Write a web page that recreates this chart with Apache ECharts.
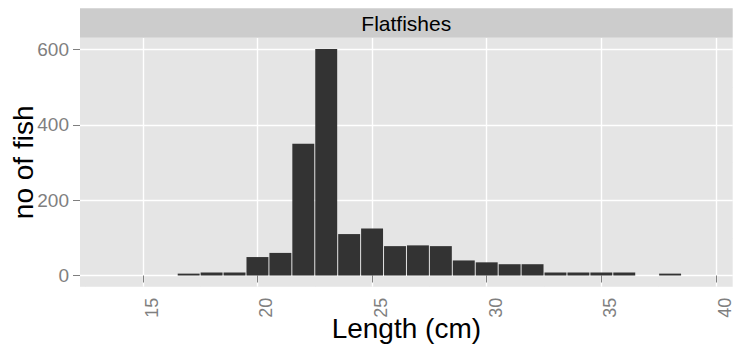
<!DOCTYPE html>
<html><head><meta charset="utf-8">
<script src="https://cdn.jsdelivr.net/npm/echarts@6/dist/echarts.min.js"></script>
<style>html,body{margin:0;padding:0;background:#fff}#c{width:734px;height:356px}</style>
</head><body><div id="c"></div>
<script>
const lengths = [17,18,19,20,21,22,23,24,25,26,27,28,29,30,31,32,33,34,35,36,38];
const counts  = [5,8,8,49,60,350,601,110,125,78,80,78,40,35,30,30,8,8,8,8,5];
const xMajorTicks = [15,20,25,30,35,40];
const xMinorTicks = [12.5,17.5,22.5,27.5,32.5,37.5];
const yMajorTicks = [0,200,400,600];
const yMinorTicks = [100,300,500];
const panelTitle = 'Flatfishes';
const xTitle = 'Length (cm)';
const yTitle = 'no of fish';

const FONT = '"Liberation Sans", Arial, sans-serif';
const X_MIN = 12.26, X_MAX = 40.73, Y_MIN = -29.7, Y_MAX = 630.5;
const chart = echarts.init(document.getElementById('c'), null, {renderer: 'svg'});
const barData = lengths.map((x, i) => [x, counts[i]]);

const minorAxisCommon = {
  axisLine: {show: false}, axisLabel: {show: false},
  splitLine: {show: true, lineStyle: {color: '#F2F2F2', width: 1}}, z: -1
};

chart.setOption({
  animation: false,
  grid: {left: 80, right: 1.3, top: 38, bottom: 69.3, show: true, backgroundColor: '#E5E5E5', borderWidth: 0, outerBoundsMode: 'none', containLabel: false},
  graphic: [
    {type: 'rect', shape: {x: 80, y: 8.3, width: 652.7, height: 29.4}, style: {fill: '#CCCCCC'}, z: -10},
    {type: 'text', x: 406.3, y: 23.5, style: {text: panelTitle, font: '21px ' + FONT, fill: '#000', textAlign: 'center', textVerticalAlign: 'middle'}}
  ],
  xAxis: [
    {type: 'value', min: X_MIN, max: X_MAX, position: 'bottom',
     axisLine: {show: false},
     axisTick: {show: true, customValues: xMajorTicks, length: 7, lineStyle: {color: '#7F7F7F', width: 1}},
     axisLabel: {customValues: xMajorTicks, rotate: 90, margin: 11, color: '#7F7F7F', fontSize: 18, lineHeight: 18, fontFamily: FONT, verticalAlign: 'top'},
     splitLine: {show: true, lineStyle: {color: '#FFFFFF', width: 1.4}},
     name: xTitle, nameLocation: 'middle', nameGap: 28, nameMoveOverlap: false,
     nameTextStyle: {color: '#000', fontSize: 28, fontFamily: FONT, verticalAlign: 'top'}},
    Object.assign({type: 'value', min: X_MIN, max: X_MAX, position: 'bottom',
     axisTick: {show: false, customValues: xMinorTicks}}, minorAxisCommon)
  ],
  yAxis: [
    {type: 'value', min: Y_MIN, max: Y_MAX, position: 'left',
     axisLine: {show: false},
     axisTick: {show: true, customValues: yMajorTicks, length: 7, lineStyle: {color: '#7F7F7F', width: 1}},
     axisLabel: {customValues: yMajorTicks, margin: 11, color: '#7F7F7F', fontSize: 19, fontFamily: FONT, padding: [4, 0, 0, 0]},
     splitLine: {show: true, lineStyle: {color: '#FFFFFF', width: 1.4}},
     name: yTitle, nameLocation: 'middle', nameGap: 43, nameMoveOverlap: false,
     nameTextStyle: {color: '#000', fontSize: 28, fontFamily: FONT}},
    Object.assign({type: 'value', min: Y_MIN, max: Y_MAX, position: 'left',
     axisTick: {show: false, customValues: yMinorTicks}}, minorAxisCommon)
  ],
  series: [{
    type: 'custom', xAxisIndex: 0, yAxisIndex: 0, data: barData,
    renderItem: function (params, api) {
      const x = api.value(0), y = api.value(1);
      const p0 = api.coord([x - 0.5, y]);
      const p1 = api.coord([x + 0.5, 0]);
      return {type: 'rect', shape: {x: p0[0] + 0.5, y: p0[1], width: p1[0] - p0[0] - 1, height: p1[1] - p0[1]}, style: {fill: '#333333'}};
    }
  }]
});
</script></body></html>
